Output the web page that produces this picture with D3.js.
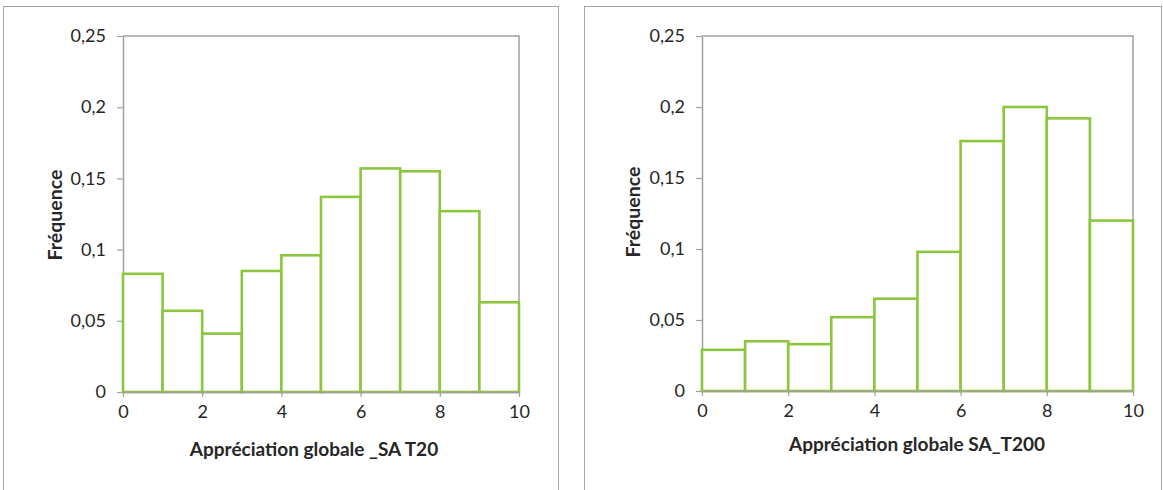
<!DOCTYPE html>
<html><head><meta charset="utf-8">
<script src="https://cdn.jsdelivr.net/npm/d3@7"></script>
<style>body{margin:0;background:#fff}svg{display:block}</style>
</head><body>
<svg id="c" width="1163" height="490"></svg>
<script>
// ---- data ----
const binStarts = [0, 1, 2, 3, 4, 5, 6, 7, 8, 9];
const binWidth = 1;
const freqT20  = [0.083, 0.057, 0.041, 0.085, 0.096, 0.137, 0.157, 0.155, 0.127, 0.063];
const freqT200 = [0.029, 0.035, 0.033, 0.052, 0.065, 0.098, 0.176, 0.200, 0.192, 0.120];
const yTickValues = [0, 0.05, 0.1, 0.15, 0.2, 0.25];
const yTickLabels = ["0", "0,05", "0,1", "0,15", "0,2", "0,25"];
const xTickValues = [0, 2, 4, 6, 8, 10];
const yTitle = "Fréquence";
const xTitleT20 = "Appréciation globale _SA T20";
const xTitleT200 = "Appréciation globale SA_T200";

const svg = d3.select("#c");
const FONT = "Lato, 'Open Sans', sans-serif";
const GREEN = "#8cc63f";
const AXIS = "#a0a0a0";

function panel(cfg) {
  // outer chart frame
  svg.append("rect").attr("x", cfg.frame[0] + 0.5).attr("y", cfg.frame[1] + 0.5)
    .attr("width", cfg.frame[2]).attr("height", cfg.frame[3])
    .attr("fill", "#fff").attr("stroke", "#a6a6a6").attr("stroke-width", 1);

  const x = d3.scaleLinear().domain([0, 10]).range([cfg.left, cfg.right]);
  const y = d3.scaleLinear().domain([0, 0.25]).range([cfg.bottom, cfg.top]);
  const g = svg.append("g");

  // plot area border (top & right)
  g.append("path")
    .attr("d", `M${x(0)},${y(0.25)}H${x(10)}V${y(0)}`)
    .attr("fill", "none").attr("stroke", AXIS).attr("stroke-width", 1.5);

  // y axis
  const yAxis = d3.axisLeft(y).tickValues(yTickValues)
    .tickFormat((d, i) => yTickLabels[i]).tickSizeInner(6).tickSizeOuter(0).tickPadding(11);
  const ya = g.append("g").attr("transform", `translate(${x(0)},0)`).call(yAxis);
  ya.select(".domain").attr("stroke", AXIS).attr("stroke-width", 1.5);
  ya.selectAll(".tick line").attr("stroke", AXIS).attr("stroke-width", 1.2);
  ya.selectAll(".tick text").attr("fill", "#262626").style("font-family", FONT).style("font-size", "18px");

  // bars
  g.selectAll("rect.bar").data(cfg.values).enter().append("rect")
    .attr("class", "bar")
    .attr("x", (d, i) => x(binStarts[i]))
    .attr("y", d => y(d))
    .attr("width", (d, i) => x(binStarts[i] + binWidth) - x(binStarts[i]))
    .attr("height", d => y(0) - y(d))
    .attr("fill", "#fff").attr("stroke", GREEN).attr("stroke-width", 2.6);

  // x axis
  const xAxis = d3.axisBottom(x).tickValues(xTickValues).tickFormat(d3.format("d"))
    .tickSizeInner(5).tickSizeOuter(0).tickPadding(8);
  const xa = g.append("g").attr("transform", `translate(0,${y(0)})`).call(xAxis);
  xa.select(".domain").attr("stroke", AXIS).attr("stroke-width", 1.5);
  xa.selectAll(".tick line").attr("stroke", AXIS).attr("stroke-width", 1.2);
  xa.selectAll(".tick text").attr("fill", "#262626").style("font-family", FONT).style("font-size", "18px");

  // titles
  g.append("text").attr("transform", `translate(${cfg.yTitleX},${cfg.yTitleY}) rotate(-90)`)
    .attr("text-anchor", "middle").attr("fill", "#262626")
    .style("font-family", FONT).style("font-weight", "bold").style("font-size", "19.5px")
    .text(yTitle);
  g.append("text").attr("x", cfg.xTitleX).attr("y", cfg.xTitleY)
    .attr("text-anchor", "middle").attr("fill", "#262626")
    .style("font-family", FONT).style("font-weight", "bold").style("font-size", "19px")
    .text(cfg.xTitle);
}

panel({frame: [3, 6, 555, 490], left: 123, right: 519, top: 36, bottom: 392,
  values: freqT20, xTitle: xTitleT20, yTitleX: 62, yTitleY: 215, xTitleX: 314, xTitleY: 456});
panel({frame: [584, 6, 577, 490], left: 702, right: 1133, top: 36, bottom: 391,
  values: freqT200, xTitle: xTitleT200, yTitleX: 640, yTitleY: 212, xTitleX: 917, xTitleY: 451});
</script>
</body></html>
